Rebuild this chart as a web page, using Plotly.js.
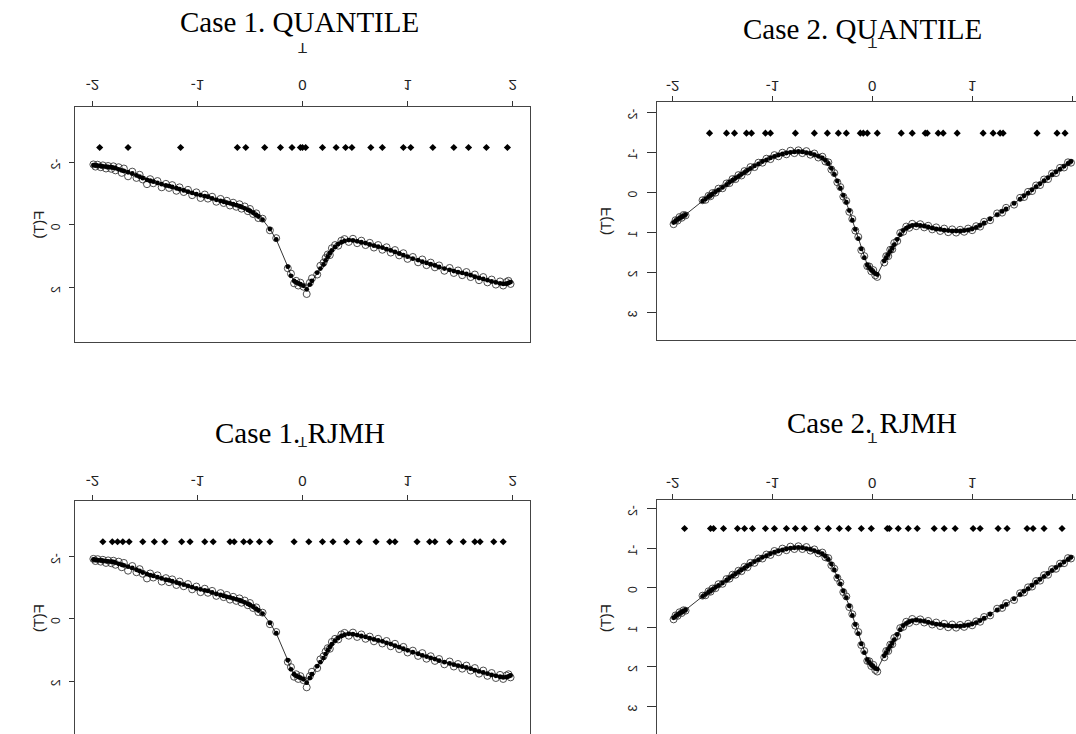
<!DOCTYPE html>
<html>
<head>
<meta charset="utf-8">
<script src="https://cdn.plot.ly/plotly-3.0.1.min.js"></script>
<style>
  html, body { margin: 0; padding: 0; background: #fff; }
  #wrap { position: relative; width: 1076px; height: 734px; overflow: hidden; }
  #plot { position: absolute; left: 0; top: 0; width: 1076px; height: 734px; transform: scaleY(-1); }
  #titles { position: absolute; left: 0; top: 0; width: 1076px; height: 734px; pointer-events: none; }
</style>
</head>
<body>
<div id="wrap">
  <div id="plot"></div>
  <div id="titles"></div>
</div>
<script>
// ---------------- DATA ----------------
const titles = ["Case 1. QUANTILE", "Case 2. QUANTILE", "Case 1. RJMH", "Case 2. RJMH"];
const xLabel = "T";
const yLabel = "F(T)";
const xTicks = [-2, -1, 0, 1, 2];
const yTicksCase1 = [-2, 0, 2];
const yTicksCase2 = [-2, -1, 0, 1, 2, 3];

// Case 1 data: T, observed F(T), fitted F(T)
const t1 = [-1.99,-1.97,-1.95,-1.92,-1.90,-1.87,-1.85,-1.82,-1.80,-1.78,
  -1.75,-1.72,-1.70,-1.66,-1.62,-1.58,-1.55,-1.52,-1.48,-1.45,
  -1.42,-1.38,-1.34,-1.30,-1.27,-1.24,-1.20,-1.17,-1.13,-1.09,
  -1.05,-1.01,-0.97,-0.93,-0.90,-0.86,-0.82,-0.78,-0.75,-0.72,
  -0.69,-0.66,-0.63,-0.60,-0.58,-0.55,-0.52,-0.50,-0.47,-0.44,
  -0.42,-0.38,-0.31,-0.25,-0.14,-0.11,-0.08,-0.06,-0.04,-0.02,
  0.01,0.04,0.07,0.09,0.14,0.17,0.20,0.22,0.24,0.26,
  0.28,0.31,0.34,0.37,0.40,0.44,0.48,0.52,0.56,0.60,
  0.64,0.68,0.72,0.76,0.80,0.84,0.88,0.92,0.96,1.00,
  1.05,1.10,1.14,1.18,1.22,1.26,1.30,1.35,1.40,1.44,
  1.48,1.52,1.56,1.60,1.64,1.68,1.72,1.76,1.80,1.84,
  1.88,1.91,1.94,1.96,1.98];
const obs1 = [-1.93,-1.86,-1.92,-1.84,-1.90,-1.80,-1.88,-1.79,-1.87,-1.74,
  -1.84,-1.66,-1.80,-1.55,-1.70,-1.50,-1.60,-1.45,-1.30,-1.46,
  -1.33,-1.40,-1.20,-1.31,-1.18,-1.27,-1.09,-1.20,-1.05,-1.12,
  -0.95,-1.04,-0.86,-0.97,-0.84,-0.90,-0.74,-0.83,-0.70,-0.77,
  -0.62,-0.71,-0.58,-0.66,-0.52,-0.59,-0.44,-0.51,-0.35,-0.37,
  -0.22,-0.20,0.17,0.42,1.38,1.55,1.86,1.78,1.93,1.84,
  1.97,2.20,1.84,1.70,1.58,1.30,1.20,1.05,0.94,0.96,
  0.74,0.64,0.66,0.50,0.45,0.54,0.44,0.58,0.50,0.64,
  0.57,0.72,0.64,0.79,0.71,0.88,0.80,0.97,0.90,1.08,
  1.02,1.19,1.10,1.28,1.20,1.35,1.29,1.46,1.37,1.53,
  1.45,1.60,1.50,1.66,1.58,1.76,1.66,1.83,1.74,1.90,
  1.80,1.93,1.82,1.78,1.88];
const fit1 = [-1.91,-1.90,-1.89,-1.88,-1.87,-1.86,-1.85,-1.84,-1.83,-1.81,
  -1.77,-1.74,-1.72,-1.68,-1.64,-1.58,-1.54,-1.49,-1.44,-1.41,
  -1.38,-1.34,-1.30,-1.26,-1.24,-1.21,-1.17,-1.14,-1.10,-1.06,
  -1.02,-0.98,-0.95,-0.92,-0.90,-0.85,-0.80,-0.77,-0.74,-0.71,
  -0.69,-0.66,-0.63,-0.60,-0.57,-0.53,-0.48,-0.45,-0.39,-0.32,
  -0.27,-0.17,0.13,0.46,1.33,1.62,1.78,1.83,1.86,1.89,
  1.94,2.05,1.90,1.78,1.52,1.39,1.26,1.13,1.01,0.90,
  0.81,0.70,0.61,0.55,0.51,0.48,0.49,0.52,0.55,0.58,
  0.62,0.66,0.69,0.72,0.77,0.81,0.86,0.91,0.96,1.01,
  1.07,1.12,1.17,1.21,1.25,1.29,1.34,1.39,1.43,1.47,
  1.50,1.53,1.56,1.60,1.65,1.69,1.72,1.76,1.80,1.83,
  1.86,1.88,1.87,1.85,1.82];

// Case 2 data
const t2 = [-1.99,-1.97,-1.95,-1.93,-1.91,-1.89,-1.87,-1.70,-1.67,-1.64,
  -1.62,-1.60,-1.57,-1.54,-1.50,-1.46,-1.43,-1.40,-1.37,-1.34,
  -1.31,-1.28,-1.25,-1.22,-1.18,-1.14,-1.10,-1.06,-1.02,-0.98,
  -0.94,-0.90,-0.86,-0.82,-0.78,-0.74,-0.70,-0.66,-0.62,-0.58,
  -0.54,-0.50,-0.47,-0.44,-0.41,-0.38,-0.35,-0.32,-0.29,-0.26,
  -0.23,-0.20,-0.17,-0.14,-0.11,-0.08,-0.05,-0.03,-0.01,0.01,
  0.03,0.05,0.12,0.14,0.16,0.18,0.20,0.22,0.25,0.28,
  0.31,0.34,0.37,0.40,0.44,0.48,0.52,0.56,0.60,0.64,
  0.68,0.72,0.76,0.80,0.84,0.88,0.92,0.96,1.00,1.04,
  1.08,1.12,1.18,1.25,1.30,1.34,1.42,1.48,1.52,1.56,
  1.60,1.64,1.68,1.72,1.76,1.80,1.84,1.88,1.92,1.96,
  1.99];
const obs2 = [0.80,0.70,0.71,0.62,0.64,0.57,0.58,0.20,0.19,0.09,
  0.10,0.02,0.01,-0.09,-0.10,-0.22,-0.23,-0.33,-0.33,-0.43,
  -0.42,-0.53,-0.52,-0.63,-0.63,-0.74,-0.74,-0.84,-0.83,-0.93,
  -0.90,-0.99,-0.95,-1.04,-0.98,-1.05,-0.98,-1.03,-0.94,-0.97,
  -0.87,-0.89,-0.77,-0.75,-0.57,-0.48,-0.25,-0.13,0.11,0.22,
  0.49,0.67,0.96,1.12,1.45,1.60,1.85,1.86,1.98,1.95,
  2.08,2.12,1.76,1.60,1.60,1.44,1.43,1.27,1.22,1.02,
  0.99,0.86,0.89,0.79,0.85,0.80,0.88,0.84,0.93,0.88,
  0.97,0.91,1.00,0.93,1.01,0.94,0.99,0.91,0.95,0.85,
  0.86,0.74,0.70,0.53,0.51,0.39,0.31,0.14,0.12,-0.01,
  -0.03,-0.17,-0.18,-0.32,-0.33,-0.47,-0.48,-0.61,-0.62,-0.75,
  -0.74];
const fit2 = [0.76,0.72,0.68,0.65,0.62,0.59,0.56,0.22,0.17,0.11,
  0.08,0.04,-0.01,-0.06,-0.12,-0.19,-0.25,-0.30,-0.35,-0.40,
  -0.45,-0.50,-0.55,-0.60,-0.66,-0.71,-0.77,-0.81,-0.86,-0.90,
  -0.93,-0.96,-0.98,-1.00,-1.01,-1.02,-1.01,-0.99,-0.97,-0.94,
  -0.90,-0.86,-0.80,-0.72,-0.60,-0.45,-0.28,-0.10,0.08,0.25,
  0.46,0.70,0.93,1.16,1.42,1.64,1.82,1.89,1.95,1.99,
  2.04,2.06,1.72,1.64,1.56,1.48,1.40,1.31,1.18,1.06,
  0.96,0.90,0.86,0.83,0.82,0.83,0.85,0.87,0.90,0.92,
  0.93,0.95,0.96,0.97,0.97,0.97,0.96,0.94,0.92,0.88,
  0.83,0.77,0.67,0.56,0.48,0.42,0.28,0.17,0.09,0.02,
  -0.06,-0.14,-0.21,-0.29,-0.36,-0.44,-0.51,-0.58,-0.65,-0.72,
  -0.77];

// Knot locations (plotted as a row of points)
const knotsQ1 = [-1.93,-1.66,-1.16,-0.62,-0.54,-0.36,-0.21,-0.10,-0.02,0.00,0.03,0.19,0.32,0.41,0.47,0.65,0.76,0.96,1.03,1.24,1.44,1.58,1.75,1.95];
const knotsQ2 = [-1.63,-1.46,-1.38,-1.26,-1.21,-1.07,-1.02,-0.77,-0.58,-0.45,-0.34,-0.26,-0.12,-0.09,-0.05,0.05,0.29,0.40,0.53,0.55,0.66,0.71,0.85,1.11,1.21,1.28,1.31,1.65,1.85,1.93];
const knotsR1 = [-1.90,-1.81,-1.76,-1.71,-1.65,-1.52,-1.41,-1.31,-1.15,-1.07,-0.93,-0.85,-0.69,-0.65,-0.56,-0.50,-0.41,-0.31,-0.08,0.06,0.19,0.29,0.42,0.54,0.70,0.83,0.88,1.09,1.21,1.26,1.40,1.53,1.64,1.69,1.82,1.91];
const knotsR2 = [-1.88,-1.62,-1.59,-1.49,-1.35,-1.28,-1.20,-1.07,-0.98,-0.86,-0.77,-0.68,-0.55,-0.44,-0.33,-0.24,-0.11,-0.01,0.15,0.17,0.26,0.36,0.45,0.62,0.72,0.83,1.01,1.08,1.26,1.35,1.55,1.61,1.72,1.90];
const knotLevel = {Q1: -2.47, Q2: -1.48, R1: -2.48, R2: -1.50};

// ---------------- STYLE ----------------
const W = 1076, H = 734;
const axisFont = {family: "Liberation Sans Narrow, Liberation Sans, Arial, sans-serif", size: 15, color: "#222"};
const yTickFont = {family: "Liberation Sans Narrow, Liberation Sans, Arial, sans-serif", size: 12, color: "#222"};

function panelTraces(xa, ya, t, obs, fit, knots, level) {
  return [
    {type: "scatter", mode: "markers", x: t, y: obs, xaxis: xa, yaxis: ya,
     marker: {symbol: "circle-open", size: 7, color: "#3a3a3a", line: {width: 0.9}}, hoverinfo: "skip"},
    {type: "scatter", mode: "lines+markers", x: t, y: fit, xaxis: xa, yaxis: ya,
     line: {color: "#000", width: 0.8}, marker: {symbol: "circle", size: 4.8, color: "#000"}, hoverinfo: "skip"},
    {type: "scatter", mode: "markers", x: knots, y: knots.map(() => level), xaxis: xa, yaxis: ya,
     marker: {symbol: "diamond", size: 5.5, color: "#000"}, hoverinfo: "skip"}
  ];
}

const data = [].concat(
  panelTraces("x", "y", t1, obs1, fit1, knotsQ1, knotLevel.Q1),
  panelTraces("x2", "y2", t2, obs2, fit2, knotsQ2, knotLevel.Q2),
  panelTraces("x3", "y3", t1, obs1, fit1, knotsR1, knotLevel.R1),
  panelTraces("x4", "y4", t2, obs2, fit2, knotsR2, knotLevel.R2)
);

function xAxis(domain, range, anchor, mirror, standoff, ticklen) {
  return {domain: domain, range: range, anchor: anchor, tickvals: xTicks, ticktext: xTicks.map(String),
    ticks: "outside", ticklen: ticklen, tickcolor: "#333", tickwidth: 1,
    showline: true, mirror: mirror, linecolor: "#444", linewidth: 1,
    showgrid: false, zeroline: false, tickfont: axisFont, ticklabelstandoff: standoff, fixedrange: true};
}
function yAxis(domain, range, anchor, ticks, mirror, standoff, ticklen) {
  return {domain: domain, range: range, anchor: anchor, tickvals: ticks, ticktext: ticks.map(String),
    ticks: "outside", ticklen: ticklen, tickcolor: "#333", tickwidth: 1, tickangle: -90,
    showline: true, mirror: mirror, linecolor: "#444", linewidth: 1,
    showgrid: false, zeroline: false, tickfont: yTickFont, ticklabelstandoff: standoff, fixedrange: true};
}

// paper fractions: x = px/W ; y (plot is flipped vertically) = pageY/H
const fx = p => p / W, fy = p => p / H;

function ann(text, px, py, angle) {
  return {text: text, x: fx(px), y: fy(py), xref: "paper", yref: "paper", showarrow: false,
    xanchor: "center", yanchor: "middle", textangle: angle || 0, font: axisFont};
}

const layout = {
  width: W, height: H,
  margin: {l: 0, r: 0, t: 0, b: 0, pad: 0},
  paper_bgcolor: "#fff", plot_bgcolor: "#fff",
  showlegend: false,
  xaxis:  xAxis([fx(75), fx(530)], [-2.165, 2.165], "y", true, 3, 5),
  yaxis:  yAxis([fy(107), fy(342)], [-3.76, 3.73], "x", yTicksCase1, true, 4, 5),
  xaxis2: xAxis([fx(657.3), 1], [-2.153, 2.040], "y2", true, -3, 5),
  yaxis2: yAxis([fy(102), fy(340)], [-2.26, 3.70], "x2", yTicksCase2, false, 6, 9),
  xaxis3: xAxis([fx(75), fx(530)], [-2.165, 2.165], "y3", false, 1, 5),
  yaxis3: yAxis([fy(501), 1], [-3.79, 3.70], "x3", yTicksCase1, true, 4, 5),
  xaxis4: xAxis([fx(657.3), 1], [-2.153, 2.040], "y4", false, -2, 5),
  yaxis4: yAxis([fy(500), 1], [-2.22, 3.70], "x4", yTicksCase2, false, 6, 9),
  annotations: [
    ann(xLabel, 302.3, 49), ann(xLabel, 872.3, 44), ann(xLabel, 302.3, 442.5), ann(xLabel, 872.3, 438),
    ann(yLabel, 38, 224.5, -90), ann(yLabel, 605, 221, -90), ann(yLabel, 38, 618, -90), ann(yLabel, 605, 618, -90)
  ]
};

Plotly.newPlot("plot", data, layout, {staticPlot: true, displayModeBar: false});

// Upright titles on a transparent overlay
const titleFont = {family: "Liberation Serif, Times New Roman, serif", size: 29, color: "#000"};
const tY = p => 1 - p / H;
function tAnn(text, px, py) {
  return {text: text, x: fx(px), y: tY(py), xref: "paper", yref: "paper", showarrow: false,
    xanchor: "center", yanchor: "middle", font: titleFont};
}
const titleLayout = {
  width: W, height: H,
  margin: {l: 0, r: 0, t: 0, b: 0, pad: 0},
  paper_bgcolor: "rgba(0,0,0,0)", plot_bgcolor: "rgba(0,0,0,0)",
  xaxis: {visible: false, range: [0, 1]}, yaxis: {visible: false, range: [0, 1]},
  showlegend: false,
  annotations: [
    tAnn(titles[0], 299, 22), tAnn(titles[1], 863, 29), tAnn(titles[2], 300, 433), tAnn(titles[3], 872, 423)
  ]
};
Plotly.newPlot("titles", [], titleLayout, {staticPlot: true, displayModeBar: false});
</script>
</body>
</html>
